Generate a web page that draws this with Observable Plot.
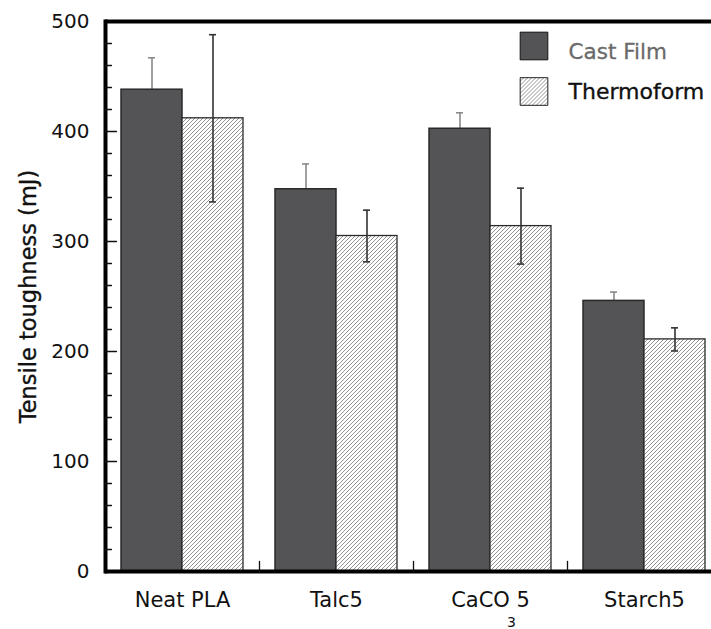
<!DOCTYPE html>
<html><head><meta charset="utf-8">
<script src="https://cdn.jsdelivr.net/npm/d3@7"></script>
<script src="https://cdn.jsdelivr.net/npm/@observablehq/plot@0.6"></script>
<style>body{margin:0;background:#fff}</style>
</head><body><div id="chart"></div>
<script>
const categories = ["Neat PLA", "Talc5", "CaCO 5", "Starch5"];
const subscriptLabel = {category: "CaCO 5", text: "3"};
const seriesNames = ["Cast Film", "Thermoform"];
const castFilm = [438, 347.5, 402.5, 246];
const castFilmErr = [29, 23, 14.5, 8];
const thermoform = [412, 305, 314, 211];
const thermoformErr = [76, 23.5, 34.5, 10.5];
const yTicks = [0, 100, 200, 300, 400, 500];
const yMinorTicks = [20, 40, 60, 80, 120, 140, 160, 180, 220, 240, 260, 280, 320, 340, 360, 380, 420, 440, 460, 480];
const yTitle = "Tensile toughness (mJ)";

const castRows = categories.map((c, i) => ({category: c, series: seriesNames[0], value: castFilm[i], err: castFilmErr[i]}));
const thermoRows = categories.map((c, i) => ({category: c, series: seriesNames[1], value: thermoform[i], err: thermoformErr[i]}));

const FONT = "DejaVu Sans";
const tickShape = {draw(context, l) { context.moveTo(0, 0); context.lineTo(0, -l); }};
const capInset = 27;
const bold = {stroke: "#111", strokeWidth: 0.35};

const legendMarks = [
  Plot.dot([seriesNames[0]], {fx: () => "Starch5", frameAnchor: "top-left", dx: -33.5, dy: 24.5, symbol: "square", r: 15.6, fill: "#545456", stroke: "#111", strokeWidth: 1}),
  Plot.text([seriesNames[0]], {fx: () => "Starch5", frameAnchor: "top-left", dx: 1, dy: 31, text: d => d, textAnchor: "start", lineAnchor: "middle", fontSize: 21.5, fill: "#6a6a6a", stroke: "#6a6a6a", strokeWidth: 0.3}),
  Plot.dot([seriesNames[1]], {fx: () => "Starch5", frameAnchor: "top-left", dx: -33.5, dy: 70, symbol: "square", r: 15.6, fill: "url(#hatch)", stroke: "#222", strokeWidth: 1}),
  Plot.text([seriesNames[1]], {fx: () => "Starch5", frameAnchor: "top-left", dx: 1, dy: 70, text: d => d, textAnchor: "start", lineAnchor: "middle", fontSize: 22, fill: "#111", ...bold})
];

const chart = Plot.plot({
  width: 711,
  height: 629,
  marginLeft: 104,
  marginRight: 0,
  marginTop: 21,
  marginBottom: 58,
  style: {fontFamily: FONT, fontSize: "20px", background: "white", color: "#111", overflow: "visible"},
  fx: {domain: categories, range: [104, 722], padding: 0, label: null},
  x: {domain: seriesNames, paddingInner: 0, paddingOuter: 0.246, align: 0.5, axis: null},
  y: {domain: [0, 500], label: null},
  marks: [
    Plot.ruleX(castRows, {fx: "category", x: "series", y1: "value", y2: d => d.value + d.err, stroke: "#8a8a8a", strokeWidth: 1.6}),
    Plot.tickY(castRows, {fx: "category", x: "series", y: d => d.value + d.err, stroke: "#8a8a8a", strokeWidth: 1.6, insetLeft: capInset, insetRight: capInset}),
    Plot.barY(castRows, {fx: "category", x: "series", y: "value", fill: "#545456", stroke: "#2a2a2a", strokeWidth: 1.5}),
    Plot.barY(thermoRows, {fx: "category", x: "series", y: "value", fill: "url(#hatch)", stroke: "#2a2a2a", strokeWidth: 1.3}),
    Plot.ruleX(thermoRows, {fx: "category", x: "series", y1: d => d.value - d.err, y2: d => d.value + d.err, stroke: "#333", strokeWidth: 1.6}),
    Plot.tickY(thermoRows, {fx: "category", x: "series", y: d => d.value - d.err, stroke: "#333", strokeWidth: 1.6, insetLeft: capInset, insetRight: capInset}),
    Plot.tickY(thermoRows, {fx: "category", x: "series", y: d => d.value + d.err, stroke: "#333", strokeWidth: 1.6, insetLeft: capInset, insetRight: capInset}),
    Plot.ruleY([0, 500], {stroke: "#000", strokeWidth: 4}),
    Plot.frame({anchor: "left", facetAnchor: "left", stroke: "#000", strokeWidth: 4}),
    Plot.vector(yTicks.slice(1, -1), {y: d => d, frameAnchor: "left", facetAnchor: "left", rotate: 90, length: 11, anchor: "start", shape: tickShape, stroke: "#111", strokeWidth: 1.3}),
    Plot.vector(yMinorTicks, {y: d => d, frameAnchor: "left", facetAnchor: "left", rotate: 90, length: 6, anchor: "start", shape: tickShape, stroke: "#111", strokeWidth: 1.3}),
    Plot.vector(categories.slice(1), {fx: d => d, frameAnchor: "bottom-left", rotate: 0, length: 10, anchor: "start", shape: tickShape, stroke: "#111", strokeWidth: 1.3}),
    Plot.axisY({ticks: yTicks, tickSize: 0, tickPadding: 16, fontSize: 20, label: null, fill: "#111", ...bold}),
    Plot.axisFx({anchor: "bottom", tickSize: 0, tickPadding: 21, fontSize: 21, label: null, fill: "#111", ...bold}),
    Plot.text([subscriptLabel], {fx: "category", text: "text", frameAnchor: "bottom", dx: 21, dy: 55, fontSize: 14, fill: "#111"}),
    Plot.text([yTitle], {fx: () => categories[0], frameAnchor: "left", dx: -77, text: d => d, rotate: -90, textAnchor: "middle", lineAnchor: "middle", fontSize: 22.5, fill: "#111", ...bold}),
    ...legendMarks
  ]
});

const svg = d3.select(chart.tagName.toLowerCase() === "svg" ? chart : chart.querySelector("svg"));
const defs = svg.insert("defs", ":first-child");
const pat = defs.append("pattern").attr("id", "hatch").attr("patternUnits", "userSpaceOnUse").attr("width", 4).attr("height", 4);
pat.append("rect").attr("width", 4).attr("height", 4).attr("fill", "#fff");
pat.append("path").attr("d", "M-1,1 l2,-2 M0,4 l4,-4 M3,5 l2,-2").attr("stroke", "#808080").attr("stroke-width", 0.85);

document.getElementById("chart").appendChild(chart);
</script>
</body></html>
